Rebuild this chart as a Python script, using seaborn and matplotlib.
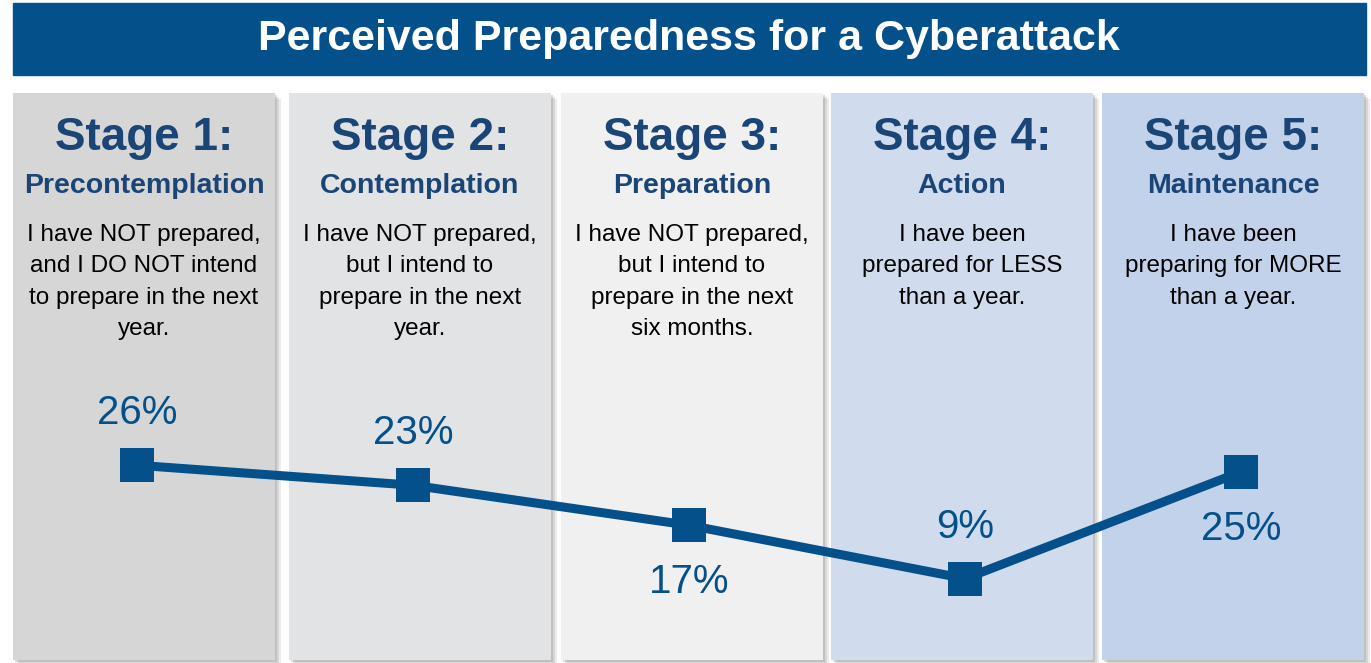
import matplotlib
matplotlib.use('Agg')
import matplotlib.pyplot as plt
import seaborn as sns
import pandas as pd
from matplotlib.patches import Rectangle

# data
stages = ['Stage 1:', 'Stage 2:', 'Stage 3:', 'Stage 4:', 'Stage 5:']
stage_names = ['Precontemplation', 'Contemplation', 'Preparation', 'Action', 'Maintenance']
descriptions = [
    'I have NOT prepared,\nand I DO NOT intend\nto prepare in the next\nyear.',
    'I have NOT prepared,\nbut I intend to\nprepare in the next\nyear.',
    'I have NOT prepared,\nbut I intend to\nprepare in the next\nsix months.',
    'I have been\nprepared for LESS\nthan a year.',
    'I have been\npreparing for MORE\nthan a year.',
]
percent = [26, 23, 17, 9, 25]
label_side = ['above', 'above', 'below', 'above', 'below']

title = 'Perceived Preparedness for a Cyberattack'
panel_colors = ['#D6D6D6', '#E2E3E5', '#F0F0F0', '#D0DCEE', '#C3D2EB']
navy = '#03508A'
heading = '#1A4576'

W, H = 1371, 663
sns.set_theme(style='white')
plt.rcParams['font.family'] = ['Liberation Sans', 'DejaVu Sans']

fig = plt.figure(figsize=(W / 100, H / 100), dpi=100)
fig.patch.set_facecolor('white')


def fx(px):
    return px / W


def fy(py):
    return 1 - py / H


# title bar
fig.patches.append(Rectangle((fx(13), fy(75)), fx(1366) - fx(13), fy(3) - fy(75),
                             transform=fig.transFigure, color=navy, zorder=0))
fig.text(fx(689), fy(39), title, ha='center', va='center', color='white',
         fontsize=31, fontweight='bold')

# stage panels with a soft shadow
panel_left = [13, 289, 561, 831, 1102]
for i in range(5):
    left = panel_left[i]
    width = 262
    top, bottom = 93, 660
    for k, a in zip([6, 4, 2], [0.15, 0.2, 0.25]):
        fig.patches.append(Rectangle((fx(left + k), fy(bottom + k)), width / W, (bottom - top) / H,
                                     transform=fig.transFigure, color='#808080', alpha=a,
                                     zorder=0, lw=0))
    fig.patches.append(Rectangle((fx(left), fy(bottom)), width / W, (bottom - top) / H,
                                 transform=fig.transFigure, color=panel_colors[i], zorder=0, lw=0))
    cx = left + width / 2
    fig.text(fx(cx), fy(150), stages[i], ha='center', va='baseline', color=heading,
             fontsize=33, fontweight='bold')
    fig.text(fx(cx), fy(193), stage_names[i], ha='center', va='baseline', color=heading,
             fontsize=20.5, fontweight='bold')
    fig.text(fx(cx), fy(224), descriptions[i], ha='center', va='top', color='black',
             fontsize=17.5, linespacing=1.55)

# line chart
ax = fig.add_axes([fx(13), fy(660), fx(1362) - fx(13), fy(93) - fy(660)])
ax.set_zorder(5)
ax.patch.set_alpha(0)
df = pd.DataFrame({'stage': range(len(percent)), 'percent': percent})
sns.lineplot(data=df, x='stage', y='percent', ax=ax, color=navy, linewidth=6.5,
             marker='s', markersize=25, markeredgewidth=0)
for i, v in enumerate(percent):
    off = 52 if label_side[i] == 'above' else -57
    ax.annotate(f'{v}%', (i, v), xytext=(0, off), textcoords='offset pixels',
                ha='center', va='center', fontsize=29, color=navy)
ax.set_xlim(-0.449, 4.438)
ax.set_ylim(-3.2, 81.8)
ax.axis('off')

fig.savefig('out.png', dpi=100)
